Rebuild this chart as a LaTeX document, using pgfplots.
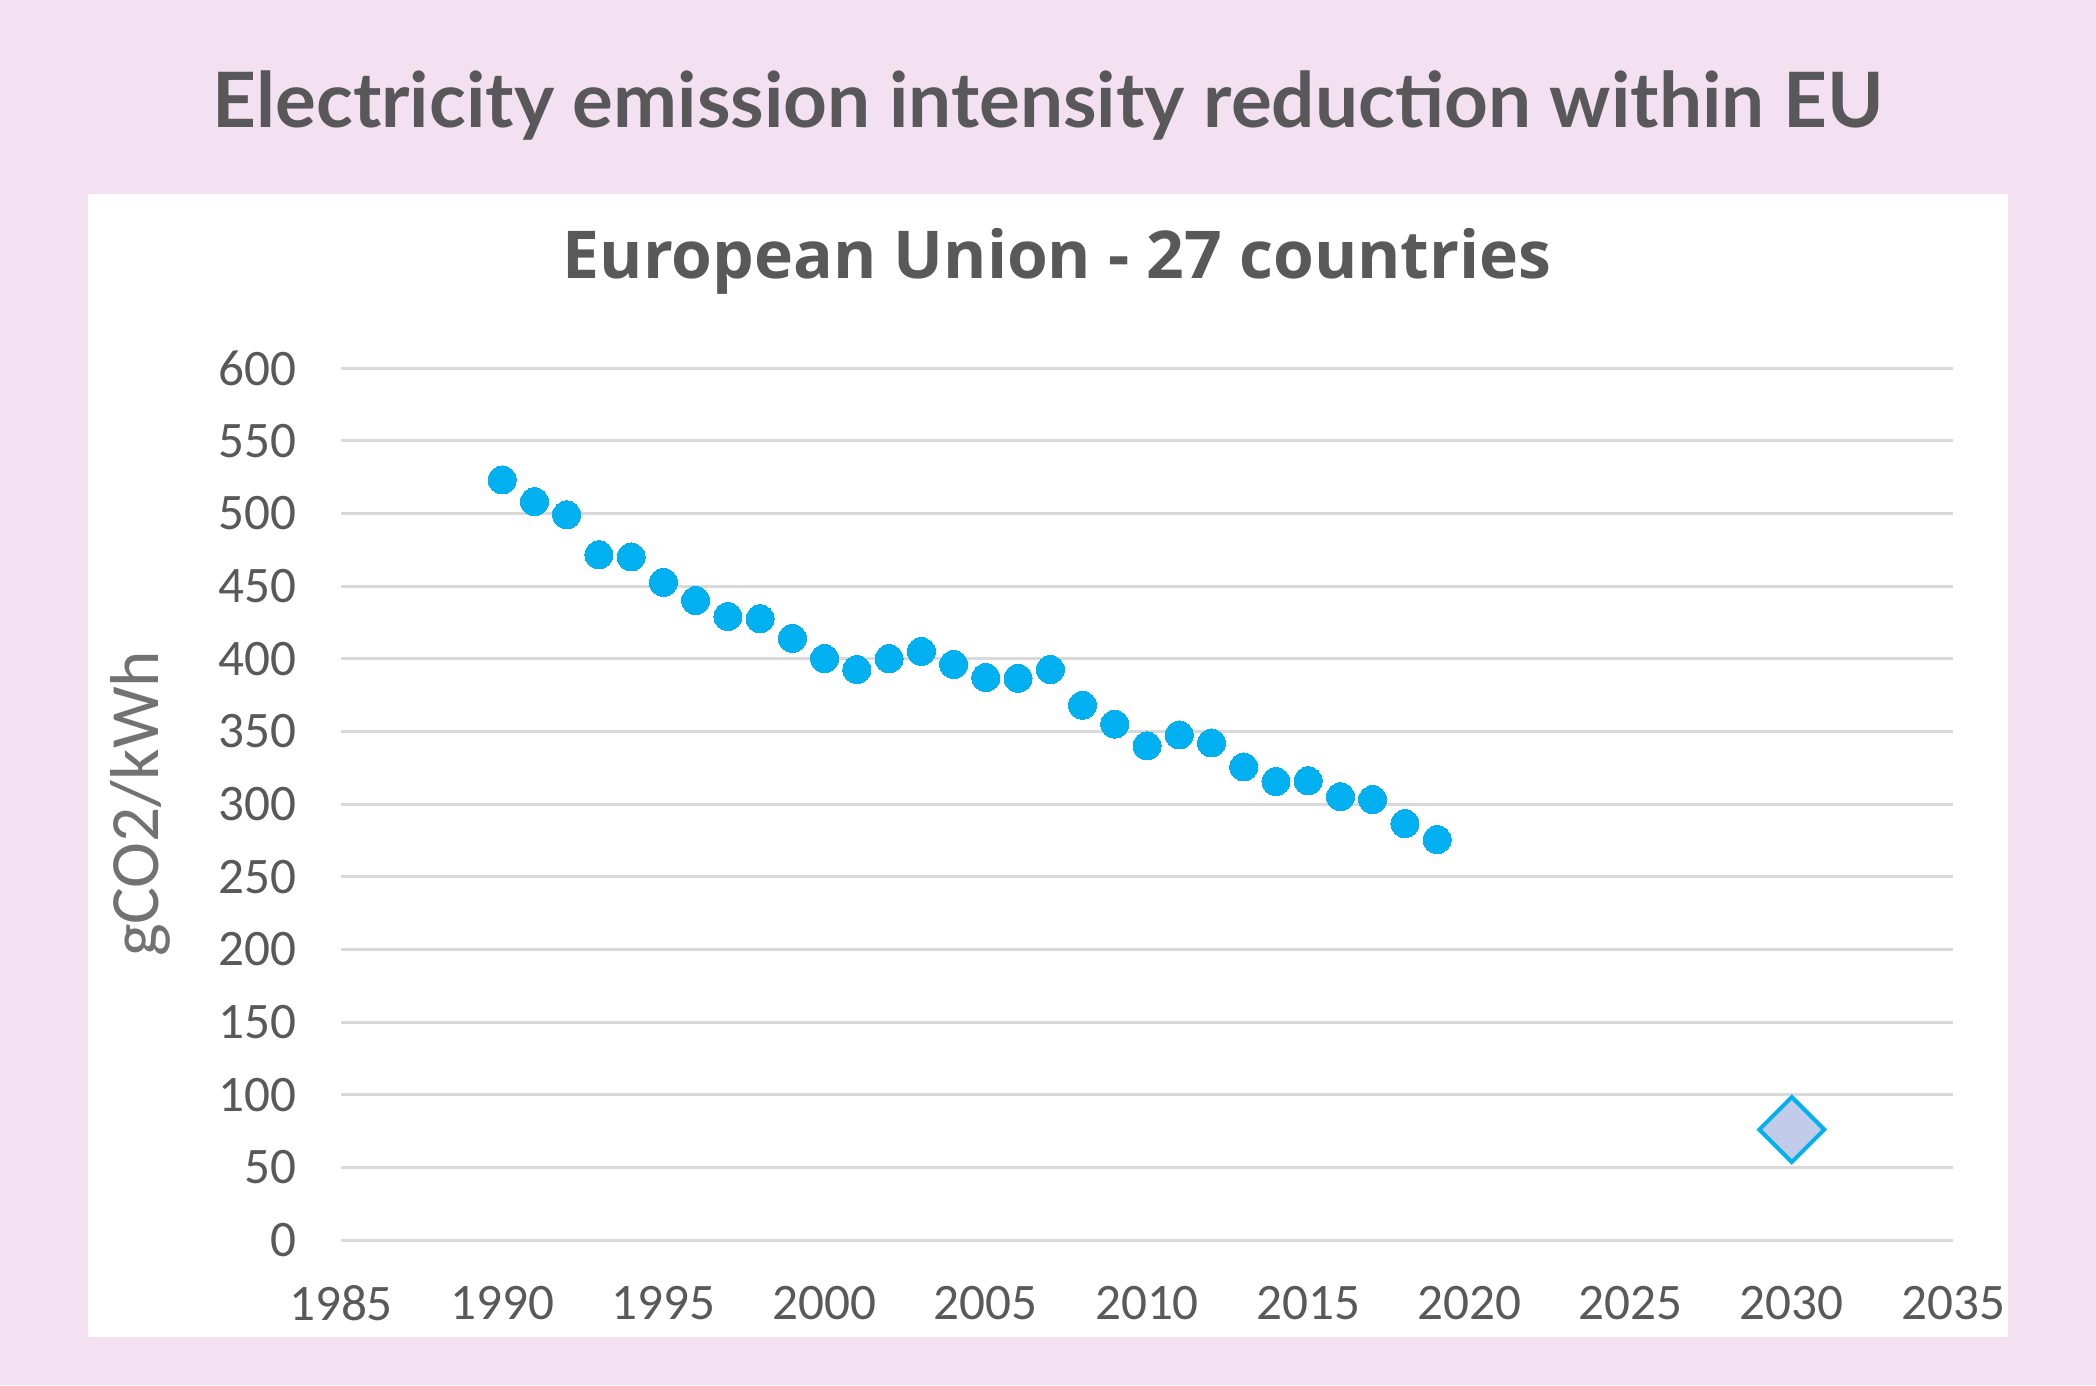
\documentclass[border=0pt]{standalone}
\usepackage{fontspec}
\setmainfont{Carlito}
\newfontfamily\titlefont{Lato}
\newfontfamily\charttitlefont{Open Sans}
\usepackage{pgfplots}
\pgfplotsset{compat=1.18}
\definecolor{pinkbg}{HTML}{F3E1F1}
\definecolor{titlegray}{HTML}{58585A}
\definecolor{tickgray}{HTML}{595959}
\definecolor{gridgray}{HTML}{D9D9D9}
\definecolor{dotblue}{HTML}{00B0F0}
\definecolor{diafill}{HTML}{C3CBEA}
\begin{document}
\begin{tikzpicture}
\fill[pinkbg] (0,0) rectangle (524pt,346.25pt);
\fill[white] (22pt,12pt) rectangle (502pt,297.75pt);
\node[text=titlegray, font=\titlefont\bfseries\fontsize{19.1}{23}\selectfont, anchor=base] at (262pt,314.4pt) {Electricity emission intensity reduction within EU};
\node[text=tickgray, font=\charttitlefont\bfseries\fontsize{16.5}{20}\selectfont, anchor=base] at (264.3pt,276.5pt) {European Union - 27 countries};
\begin{axis}[
  at={(85.25pt,36.25pt)}, anchor=south west,
  scale only axis, width=403pt, height=218pt,
  xmin=1985, xmax=2035, ymin=0, ymax=600,
  xtick={1985,1990,...,2035}, ytick={0,50,...,600},
  axis line style={draw=none}, tick style={draw=none},
  ymajorgrids, major grid style={draw=gridgray, line width=0.75pt},
  /pgf/number format/assume math mode=true,
  /pgf/number format/1000 sep={},
  ticklabel style={font=\fontsize{12.8}{15}\selectfont, text=tickgray},
  xticklabel style={anchor=center, yshift=-15.7pt},
  yticklabel style={anchor=east, inner sep=0pt, xshift=-11pt},
  ylabel={gCO2/kWh},
  ylabel style={at={(axis description cs:-0.1247,0.5)}, anchor=center, font=\fontsize{17.3}{20}\selectfont, text=tickgray!85},
  clip=false,
]
\addplot[only marks, mark=*, mark size=3.5pt, mark options={fill=dotblue, draw=dotblue, line width=0pt}] coordinates {
(1990,523) (1991,508) (1992,499) (1993,471.5) (1994,470) (1995,452.5)
(1996,440) (1997,429) (1998,427.5) (1999,414) (2000,400) (2001,392.5)
(2002,400) (2003,405) (2004,396) (2005,387) (2006,386.5) (2007,392.5)
(2008,368) (2009,355) (2010,340) (2011,347.5) (2012,342) (2013,325.5)
(2014,315.5) (2015,316) (2016,305) (2017,303) (2018,286.5) (2019,275.5)
};
\addplot[only marks, mark=square*, mark size=5.75pt, mark options={rotate=45, fill=diafill, draw=dotblue, line width=1pt}] coordinates {
(2030,76)
};
\end{axis}
\pgfresetboundingbox
\useasboundingbox (0,0) rectangle (524pt,346.25pt);
\end{tikzpicture}
\end{document}
